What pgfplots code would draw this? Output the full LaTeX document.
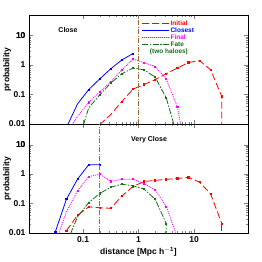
\documentclass[border=0pt]{standalone}
\usepackage{fontspec}
\setmainfont{Liberation Sans}
\usepackage{pgfplots}
\pgfplotsset{compat=1.18}
\definecolor{cred}{RGB}{255,0,0}
\definecolor{cblue}{RGB}{0,0,255}
\definecolor{cmag}{RGB}{255,0,255}
\definecolor{cgreen}{RGB}{20,110,20}
\definecolor{cbrown}{RGB}{160,105,55}
\pgfplotsset{
  sred/.style={cred, dash pattern=on 7pt off 3pt, mark=square*, mark size=0.6pt, mark options={solid}},
  sblue/.style={cblue, solid, mark=square*, mark size=0.6pt},
  smag/.style={cmag, dash pattern=on 1pt off 1pt, mark=square*, mark size=0.6pt, mark options={solid}},
  sgreen/.style={cgreen, dash pattern=on 6pt off 1.5pt on 1.5pt off 1.5pt, mark=square*, mark size=0.6pt, mark options={solid}},
  svert/.style={cbrown, line width=0.8pt, dash pattern=on 5pt off 1.5pt on 1pt off 1.5pt},
  every axis/.append style={
    width=219pt, height=109pt, scale only axis,
    xmin=0.0106, xmax=94, ymin=0.01, ymax=50,
    ytick={0.01,0.1,1,10},
    yticklabels={0.01,0.1,1,10},
    xtick={0.1,1,10},
    tick align=inside, xtick pos=both, ytick pos=both,
    major tick length=4pt, minor tick length=2pt,
    ticklabel style={font=\fontsize{8.5}{9}\selectfont\bfseries},
    /pgf/number format/assume math mode=true,
    label style={font=\fontsize{8.5}{9}\selectfont\bfseries},
    ylabel style={at={(axis description cs:-0.10,0.5)}, anchor=center},
    ylabel={probability},
  },
  every axis plot/.append style={line width=0.8pt},
}
\newcommand{\tenlabel}{\node[anchor=east, font=\fontsize{8.5}{9}\selectfont\bfseries] at (axis cs:0.0106,10) {10};}
\begin{document}
\begin{tikzpicture}
\useasboundingbox (0,0) rectangle (262pt,-262pt);
\begin{loglogaxis}[at={(29pt,-15pt)}, anchor=north west, xticklabels={},
  legend image code/.code={\draw[#1] (0pt,0pt) -- (27pt,0pt);},
  legend style={at={(rel axis cs:0.515,0.955)}, anchor=north west, draw=none, fill=none,
    inner sep=0pt, row sep=0pt, font=\fontsize{6.5}{7}\selectfont\bfseries,
    nodes={inner sep=0.75pt, text height=5pt, text depth=0.5pt}},
  legend cell align=left, clip mode=individual]
\addplot[sred, mark indices={2,...,12}] coordinates {(0.2,0.0095) (0.316,0.021) (0.501,0.058) (0.794,0.153) (1.259,0.22) (1.995,0.32) (3.162,0.51) (5.012,0.79) (7.943,1.23) (12.59,1.4) (19.95,0.69) (31.62,0.086) (31.62,0.001)};
\addlegendentry{\textcolor{cred}{Initial}}
\addplot[sblue, mark indices={2,...,7}] coordinates {(0.0501,0.0076) (0.0794,0.048) (0.126,0.146) (0.2,0.34) (0.316,0.75) (0.501,1.5) (0.794,2.45)};
\addlegendentry{\textcolor{cblue}{Closest}}
\addplot[smag, mark indices={2,...,10}] coordinates {(0.0501,0.005) (0.0794,0.018) (0.126,0.054) (0.2,0.124) (0.316,0.27) (0.501,0.69) (0.794,1.6) (1.259,1.2) (1.995,0.89) (3.162,0.335) (5.012,0.038) (7.943,0.0004)};
\addlegendentry{\textcolor{cmag}{Final}}
\addplot[sgreen, mark indices={2,...,9}] coordinates {(0.0794,0.002) (0.126,0.035) (0.2,0.098) (0.316,0.245) (0.501,0.507) (0.794,0.79) (1.259,0.69) (1.995,0.39) (3.162,0.076) (5.012,0.0038)};
\addlegendentry{\textcolor{cgreen}{Fate}}
\addplot[svert, forget plot] coordinates {(1,0.01) (1,50)};
\node[font=\fontsize{6.5}{7}\selectfont\bfseries, text=cgreen] at (rel axis cs:0.639,0.661) {(two haloes)};
\node[font=\fontsize{7}{8}\selectfont\bfseries] at (rel axis cs:0.178,0.863) {Close};
\tenlabel
\end{loglogaxis}
\begin{loglogaxis}[at={(29pt,-124pt)}, anchor=north west, xticklabels={0.1,1,10},
  xlabel={distance [Mpc h$^{\mathbf{-1}}$]},
  xlabel style={at={(axis description cs:0.5,-0.17)}, anchor=center}, clip mode=individual]
\addplot[sred] coordinates {(0.0501,0.012) (0.0794,0.04) (0.126,0.077) (0.2,0.072) (0.316,0.069) (0.501,0.18) (0.794,0.38) (1.259,0.56) (1.995,0.61) (3.162,0.66) (5.012,0.71) (7.943,0.77) (12.59,0.53) (19.95,0.21) (31.62,0.021)};
\addplot[cred, dash pattern=on 7pt off 3pt, forget plot] coordinates {(31.62,0.021) (31.62,0.001)};
\addplot[sblue] coordinates {(0.0316,0.011) (0.0501,0.14) (0.0794,0.67) (0.126,2.06) (0.2,2.06)};
\addplot[smag, mark indices={2,...,11}] coordinates {(0.0316,0.0043) (0.0501,0.053) (0.0794,0.27) (0.126,0.82) (0.2,0.99) (0.316,0.56) (0.501,0.67) (0.794,0.67) (1.259,0.47) (1.995,0.29) (3.162,0.079) (5.012,0.007)};
\addplot[sgreen, mark indices={2,...,10}] coordinates {(0.0501,0.0044) (0.0794,0.035) (0.126,0.107) (0.2,0.22) (0.316,0.36) (0.501,0.45) (0.794,0.4) (1.259,0.31) (1.995,0.14) (3.162,0.021) (3.162,0.001)};
\addplot[svert] coordinates {(0.2,0.01) (0.2,50)};
\node[font=\fontsize{7}{8}\selectfont\bfseries] at (rel axis cs:0.548,0.853) {Very Close};
\tenlabel
\end{loglogaxis}
\end{tikzpicture}
\end{document}
